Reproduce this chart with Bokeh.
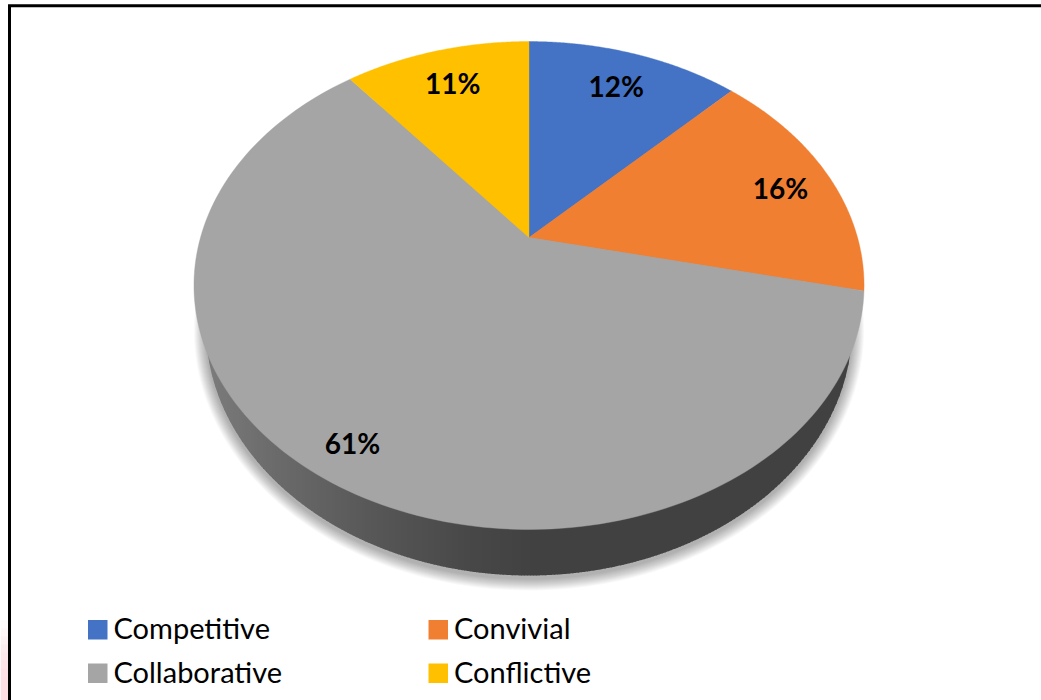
import numpy as np
from bokeh.plotting import figure
from bokeh.core.properties import value
from bokeh.embed import file_html
from bokeh.resources import INLINE

categories = ["Competitive", "Convivial", "Collaborative", "Conflictive"]
shares = [12.4, 16.1, 60.7, 10.8]
labels = ["12%", "16%", "61%", "11%"]
colors = ["#4472c4", "#f07f32", "#a5a5a5", "#ffc000"]

W, H = 1041, 700
CX, AX, AY, APEX_Y, K, C = 528.5, 335.5, 244.0, 237.0, 0.1967, 328.5
A = -187.9
LOW_CY, LOW_A, LOW_B = 327.0, 323.0, 248.0
FONT = value("Lato")

def project(theta, r=1.0):
    X, Y = r * np.sin(theta), r * np.cos(theta)
    d = 1 + K * Y
    return CX + C * X / d, (A * Y + APEX_Y) / d

def wall_color(x):
    stops_x = [205, 270, 370, 470, 540, 900]
    stops_v = [124, 108, 88, 72, 65, 65]
    v = int(np.interp(x, stops_x, stops_v))
    return "#%02x%02x%02x" % (v, v, v)

p = figure(width=W, height=H, x_range=(0, W), y_range=(H, 0), output_backend="svg",
           toolbar_location=None, min_border=0, outline_line_color=None,
           background_fill_color="white", border_fill_color="white")
p.axis.visible = False
p.grid.visible = False

# faint pink smear at the lower left, outside the frame
for y0, tint in zip(range(620, 700, 8),
                    ["#fffafb", "#fef6f7", "#fef1f3", "#fdecef", "#fde8ec",
                     "#fde4e9", "#fce2e8", "#fce0e6", "#fce0e6", "#fce0e6"]):
    p.quad(left=0, right=8, top=y0, bottom=y0 + 8.5, fill_color=tint, line_color=None)

# frame of the picture
p.line([9, 9, W], [H, 5.3, 5.3], line_color="#000000", line_width=3, line_join="miter")

# soft shadow under the disc
t = np.linspace(0, 2 * np.pi, 240)
for k in range(12, 0, -1):
    p.patch(CX + (LOW_A + k) * np.cos(t), LOW_CY + 3 + (LOW_B + k) * np.sin(t),
            fill_color="#000000", fill_alpha=0.026, line_color=None)

# side wall, with its gradient
xs = np.arange(CX - LOW_A, CX + LOW_A, 3.0)
xs = np.append(xs, CX + LOW_A)
for x0, x1 in zip(xs[:-1], xs[1:]):
    xx = np.linspace(x0, min(x1 + 0.6, CX + LOW_A), 4)
    yy = LOW_CY + LOW_B * np.sqrt(np.clip(1 - ((xx - CX) / LOW_A) ** 2, 0, 1))
    c = wall_color((x0 + x1) / 2)
    p.patch(list(xx) + [xx[-1], xx[0]], list(yy) + [300, 300], fill_color=c, line_color=None)

# top face
edges = np.cumsum([0] + shares) / sum(shares) * 2 * np.pi
for i, col in enumerate(colors):
    th = np.linspace(edges[i], edges[i + 1], 160)
    ex, ey = project(th)
    p.patch([CX] + list(ex), [APEX_Y] + list(ey), fill_color=col, line_color=col, line_width=0.4)

# value labels
label_r = [0.80, 0.835, 0.87, 0.80]
label_dy = [0, 3, 3, 0]
mids = (edges[:-1] + edges[1:]) / 2
lx, ly = project(mids, np.array(label_r))
p.text(lx, ly + np.array(label_dy), text=labels, text_align="center", text_baseline="middle",
       text_font=FONT, text_font_style="bold", text_font_size="28px", text_color="#000000")

# legend
leg_x = [87.5, 428, 87.5, 428]
leg_y = [619.5, 619.5, 663, 663]
for i, name in enumerate(categories):
    p.quad(left=leg_x[i], right=leg_x[i] + 19.5, top=leg_y[i], bottom=leg_y[i] + 19.5,
           fill_color=colors[i], line_color=None)
    p.text([leg_x[i] + 25.5], [leg_y[i] + 7.5], text=[name], text_align="left", text_baseline="middle",
           text_font=FONT, text_font_size="29px", text_color="#000000")

open("out.html", "w").write(file_html(p, INLINE))
